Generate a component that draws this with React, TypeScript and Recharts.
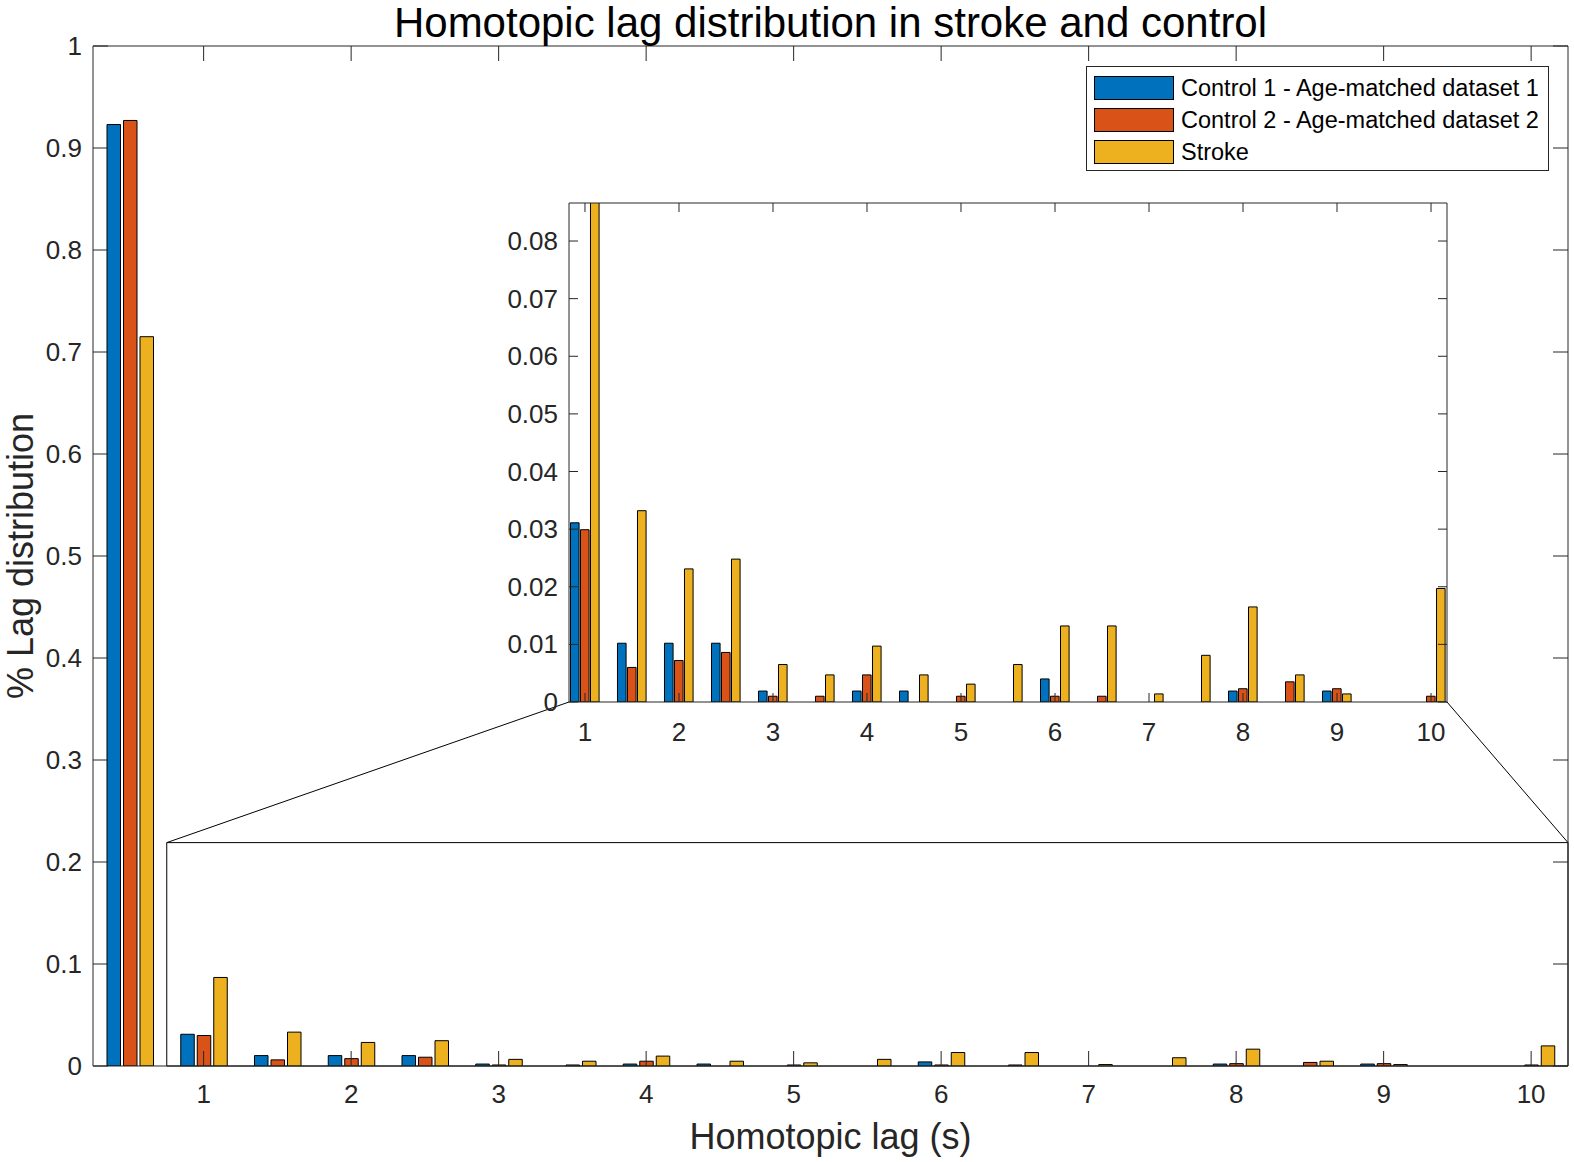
import React from 'react';
import {
  BarChart,
  Bar,
  XAxis,
  YAxis,
  Legend,
  Label,
  ReferenceArea,
  ReferenceLine,
} from 'recharts';

const FONT = '"Liberation Sans", Arial, Helvetica, sans-serif';
const AXIS = '#262626';

// lag bins in seconds (0.5 s steps)
const lags = [0.5, 1, 1.5, 2, 2.5, 3, 3.5, 4, 4.5, 5, 5.5, 6, 6.5, 7, 7.5, 8, 8.5, 9, 9.5, 10];
const control1 = [
  0.923, 0.0311, 0.0102, 0.0102, 0.0102, 0.0019, 0, 0.0019, 0.0019, 0,
  0, 0.004, 0, 0, 0, 0.0019, 0, 0.0019, 0, 0,
];
const control2 = [
  0.927, 0.0299, 0.006, 0.0072, 0.0086, 0.001, 0.001, 0.0047, 0, 0.001,
  0, 0.001, 0.001, 0, 0, 0.0023, 0.0035, 0.0023, 0, 0.001,
];
const strokeGroup = [
  0.715, 0.0868, 0.0332, 0.0231, 0.0248, 0.0065, 0.0047, 0.0097, 0.0047, 0.0031,
  0.0065, 0.0132, 0.0132, 0.0014, 0.0081, 0.0165, 0.0047, 0.0014, 0, 0.0197,
];

const xTicks = [1, 2, 3, 4, 5, 6, 7, 8, 9, 10];
const mainYTicks = [0, 0.1, 0.2, 0.3, 0.4, 0.5, 0.6, 0.7, 0.8, 0.9, 1];
const insetYTicks = [0, 0.01, 0.02, 0.03, 0.04, 0.05, 0.06, 0.07, 0.08];

const series = [
  { key: 'c1', name: 'Control 1 - Age-matched dataset 1', color: '#0072BD' },
  { key: 'c2', name: 'Control 2 - Age-matched dataset 2', color: '#D95319' },
  { key: 'stk', name: 'Stroke', color: '#EDB120' },
];

const data = lags.map((lag, i) => ({
  lag,
  c1: control1[i],
  c2: control2[i],
  stk: strokeGroup[i],
}));
const insetData = data.filter((d) => d.lag >= 1);

// axis limits
const MAIN_X: [number, number] = [0.25, 10.25];
const MAIN_Y: [number, number] = [0, 1];
const INSET_X: [number, number] = [0.83, 10.17];
const INSET_Y: [number, number] = [0, 0.0866];
const ZOOM = { x1: 0.75, x2: 10.25, y1: 0, y2: 0.219 };

// pixel layout of the two plot boxes
const MAIN = { left: 93, top: 46, width: 1475, height: 1020 };
const INSET = { left: 569, top: 203, width: 878, height: 499 };

const TICK_FONT = 26;

const toMainX = (px: number) =>
  MAIN_X[0] + ((px - MAIN.left) / MAIN.width) * (MAIN_X[1] - MAIN_X[0]);
const toMainY = (py: number) =>
  MAIN_Y[1] - ((py - MAIN.top) / MAIN.height) * (MAIN_Y[1] - MAIN_Y[0]);

const insetBottomLeft = { x: toMainX(INSET.left), y: toMainY(INSET.top + INSET.height) };
const insetBottomRight = {
  x: toMainX(INSET.left + INSET.width),
  y: toMainY(INSET.top + INSET.height),
};

type Side = 'bottom' | 'top' | 'left' | 'right';

// matlab style ticks: pointing into the plot
const tickFor = (side: Side, len: number, label?: { gap: number; fontSize: number }) =>
  (props: any) => {
    const { x, y, payload } = props;
    let line;
    if (side === 'bottom') line = <line x1={x} y1={y} x2={x} y2={y - len} />;
    else if (side === 'top') line = <line x1={x} y1={y} x2={x} y2={y + len} />;
    else if (side === 'left') line = <line x1={x} y1={y} x2={x + len} y2={y} />;
    else line = <line x1={x} y1={y} x2={x - len} y2={y} />;
    let text = null;
    if (label && side === 'bottom') {
      text = (
        <text x={x} y={y + label.gap} textAnchor="middle" dominantBaseline="central"
          fill={AXIS} stroke="none" fontSize={label.fontSize} fontFamily={FONT}>
          {payload.value}
        </text>
      );
    } else if (label && side === 'left') {
      text = (
        <text x={x - label.gap} y={y} textAnchor="end" dominantBaseline="central"
          fill={AXIS} stroke="none" fontSize={label.fontSize} fontFamily={FONT}>
          {payload.value}
        </text>
      );
    }
    return (
      <g>
        <g stroke={AXIS} strokeWidth={1}>{line}</g>
        {text}
      </g>
    );
  };

const titleLabel = (props: any) => {
  const vb = props.viewBox;
  return (
    <text x={vb.x + vb.width / 2} y={22} textAnchor="middle" dominantBaseline="central"
      fontSize={42} fontFamily={FONT} fill="#000">
      Homotopic lag distribution in stroke and control
    </text>
  );
};

const xLabel = (props: any) => {
  const vb = props.viewBox;
  return (
    <text x={vb.x + vb.width / 2} y={1136} textAnchor="middle" dominantBaseline="central"
      fontSize={36} fontFamily={FONT} fill={AXIS}>
      Homotopic lag (s)
    </text>
  );
};

const yLabel = (props: any) => {
  const vb = props.viewBox;
  const cy = vb.y + vb.height / 2;
  return (
    <text x={20} y={cy} transform={`rotate(-90, 20, ${cy})`} textAnchor="middle"
      dominantBaseline="central" fontSize={36} fontFamily={FONT} fill={AXIS}>
      % Lag distribution
    </text>
  );
};

const LegendBox = (props: any) => {
  const payload = props.payload || [];
  return (
    <div
      style={{
        width: 463,
        height: 105,
        boxSizing: 'border-box',
        border: `1px solid ${AXIS}`,
        background: '#fff',
        padding: '5px 0 0 7px',
        fontFamily: FONT,
      }}
    >
      {payload.map((entry: any) => (
        <div key={entry.value} style={{ display: 'flex', alignItems: 'center', height: 32 }}>
          <span
            style={{
              display: 'inline-block',
              width: 80,
              height: 24,
              boxSizing: 'border-box',
              background: entry.color,
              border: '1px solid #000',
              marginRight: 7,
            }}
          />
          <span style={{ fontSize: 23.5, color: '#000', whiteSpace: 'nowrap' }}>{entry.value}</span>
        </div>
      ))}
    </div>
  );
};

function MainChart() {
  return (
    <BarChart
      width={1574}
      height={1162}
      data={data}
      margin={{ top: 45, right: 5, left: 0, bottom: 0 }}
      barGap={3}
    >
      <ReferenceArea
        xAxisId="x"
        yAxisId="y"
        x1={ZOOM.x1}
        x2={ZOOM.x2}
        y1={ZOOM.y1}
        y2={ZOOM.y2}
        fill="none"
        fillOpacity={0}
        stroke="#000"
        strokeWidth={1}
        ifOverflow="visible"
      />
      <ReferenceLine
        xAxisId="x"
        yAxisId="y"
        segment={[{ x: ZOOM.x1, y: ZOOM.y2 }, insetBottomLeft]}
        stroke="#000"
        strokeWidth={1}
        ifOverflow="visible"
      />
      <ReferenceLine
        xAxisId="x"
        yAxisId="y"
        segment={[{ x: ZOOM.x2, y: ZOOM.y2 }, insetBottomRight]}
        stroke="#000"
        strokeWidth={1}
        ifOverflow="visible"
      />
      {series.map((s) => (
        <Bar
          key={s.key}
          xAxisId="x"
          yAxisId="y"
          dataKey={s.key}
          name={s.name}
          fill={s.color}
          stroke="#000"
          strokeWidth={1}
          barSize={13.5}
          isAnimationActive={false}
        />
      ))}
      <XAxis
        xAxisId="x"
        type="number"
        dataKey="lag"
        domain={MAIN_X}
        allowDataOverflow
        ticks={xTicks}
        interval={0}
        height={96}
        tickSize={0}
        tickMargin={0}
        tickLine={false}
        axisLine={{ stroke: AXIS }}
        tick={tickFor('bottom', 15, { gap: 28, fontSize: TICK_FONT })}
      >
        <Label content={xLabel} />
      </XAxis>
      <XAxis
        xAxisId="top"
        orientation="top"
        type="number"
        dataKey="lag"
        domain={MAIN_X}
        allowDataOverflow
        ticks={xTicks}
        interval={0}
        height={1}
        tickSize={0}
        tickMargin={0}
        tickLine={false}
        axisLine={{ stroke: AXIS }}
        tick={tickFor('top', 15)}
      >
        <Label content={titleLabel} />
      </XAxis>
      <YAxis
        yAxisId="y"
        domain={MAIN_Y}
        allowDataOverflow
        ticks={mainYTicks}
        interval={0}
        width={93}
        tickSize={0}
        tickMargin={0}
        tickLine={false}
        axisLine={{ stroke: AXIS }}
        tick={tickFor('left', 15, { gap: 11, fontSize: TICK_FONT })}
      >
        <Label content={yLabel} />
      </YAxis>
      <YAxis
        yAxisId="r"
        orientation="right"
        domain={MAIN_Y}
        allowDataOverflow
        ticks={mainYTicks}
        interval={0}
        width={1}
        tickSize={0}
        tickMargin={0}
        tickLine={false}
        axisLine={{ stroke: AXIS }}
        tick={tickFor('right', 15)}
      />
      <Legend
        layout="horizontal"
        verticalAlign="middle"
        align="center"
        content={LegendBox}
        wrapperStyle={{ left: 1086, top: 66, width: 463, height: 105 }}
      />
    </BarChart>
  );
}

function InsetChart() {
  return (
    <BarChart
      width={968}
      height={562}
      data={insetData}
      margin={{ top: 12, right: 0, left: 0, bottom: 0 }}
      barGap={1.4}
    >
      {series.map((s) => (
        <Bar
          key={s.key}
          xAxisId="x"
          yAxisId="y"
          dataKey={s.key}
          name={s.name}
          fill={s.color}
          stroke="#000"
          strokeWidth={1}
          barSize={8.6}
          isAnimationActive={false}
        />
      ))}
      <XAxis
        xAxisId="x"
        type="number"
        dataKey="lag"
        domain={INSET_X}
        allowDataOverflow
        ticks={xTicks}
        interval={0}
        height={50}
        tickSize={0}
        tickMargin={0}
        tickLine={false}
        axisLine={{ stroke: AXIS }}
        tick={tickFor('bottom', 9, { gap: 30, fontSize: TICK_FONT })}
      />
      <XAxis
        xAxisId="top"
        orientation="top"
        type="number"
        dataKey="lag"
        domain={INSET_X}
        allowDataOverflow
        ticks={xTicks}
        interval={0}
        height={1}
        tickSize={0}
        tickMargin={0}
        tickLine={false}
        axisLine={{ stroke: AXIS }}
        tick={tickFor('top', 9)}
      />
      <YAxis
        yAxisId="y"
        domain={INSET_Y}
        allowDataOverflow
        ticks={insetYTicks}
        interval={0}
        width={89}
        tickSize={0}
        tickMargin={0}
        tickLine={false}
        axisLine={{ stroke: AXIS }}
        tick={tickFor('left', 9, { gap: 11, fontSize: TICK_FONT })}
      />
      <YAxis
        yAxisId="r"
        orientation="right"
        domain={INSET_Y}
        allowDataOverflow
        ticks={insetYTicks}
        interval={0}
        width={1}
        tickSize={0}
        tickMargin={0}
        tickLine={false}
        axisLine={{ stroke: AXIS }}
        tick={tickFor('right', 9)}
      />
    </BarChart>
  );
}

export default function App() {
  return (
    <div
      style={{
        position: 'absolute',
        left: 0,
        top: 0,
        width: 1574,
        height: 1162,
        background: '#fff',
        fontFamily: FONT,
      }}
    >
      <MainChart />
      <div
        style={{
          position: 'absolute',
          left: INSET.left - 89,
          top: INSET.top - 13,
        }}
      >
        <InsetChart />
      </div>
    </div>
  );
}
